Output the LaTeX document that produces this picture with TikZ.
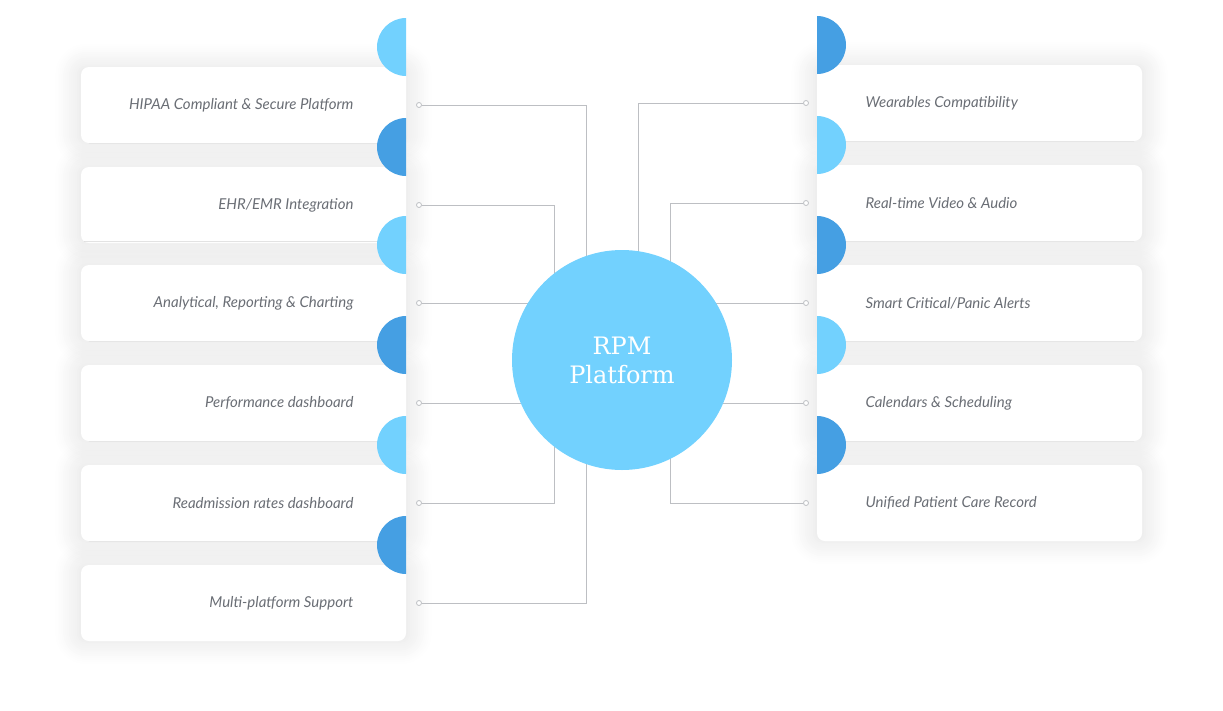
\documentclass[tikz,border=0pt]{standalone}
\usepackage{fontspec}
\setmainfont{Lato}
\newfontfamily\hubfont{DejaVu Serif}
\usetikzlibrary{shadows.blur}
\definecolor{skyblue}{HTML}{72D1FE}
\definecolor{deepblue}{HTML}{459FE3}
\definecolor{cardtext}{HTML}{6A6E75}
\definecolor{wireg}{HTML}{BDBFC3}

\begin{document}
\begin{tikzpicture}[x=1pt,y=-1pt,
  card/.style={rectangle,rounded corners=8pt,fill=white,minimum width=325pt,minimum height=76pt,blur shadow={shadow blur steps=12,shadow xshift=0pt,shadow yshift=0pt,shadow blur radius=22pt,shadow opacity=12,shadow scale=1.02}},
  label/.style={font=\itshape\fontsize{15}{18}\selectfont,text=cardtext},
  dot/.style={circle,draw=wireg,fill=white,inner sep=0pt,minimum size=5pt,line width=0.8pt},
  link/.style={draw=wireg,line width=0.9pt},
  arr/.style={white,line width=1.1pt,line cap=round}]
  \useasboundingbox (0,0) rectangle (1223,710);

  % cards, left column then right column
  \foreach \y/\t/\c [count=\i] in {105/{HIPAA Compliant \& Secure Platform}/skyblue,205/{EHR/EMR Integration}/deepblue,
      303/{Analytical, Reporting \& Charting}/skyblue,403/{Performance dashboard}/deepblue,
      503/{Readmission rates dashboard}/skyblue,603/{Multi-platform Support}/deepblue}{
    \node[card] (cl\i) at (243.5,\y) {};
    \node[label,anchor=east] at (357,\y) {\t};
    \fill[\c] (406,\y-29) arc (90:270:29) -- cycle;
    \draw[arr] (386,\y) -- (397,\y) (391,\y-5) -- (386,\y) -- (391,\y+5);
    \node[dot] (l\i) at (419,\y) {};
  }
  \foreach \y/\t/\c [count=\i] in {103/{Wearables Compatibility}/deepblue,203/{Real-time Video \& Audio}/skyblue,
      303/{Smart Critical/Panic Alerts}/deepblue,403/{Calendars \& Scheduling}/skyblue,503/{Unified Patient Care Record}/deepblue}{
    \node[card] (cr\i) at (979.5,\y) {};
    \node[label,anchor=west] at (862,\y) {\t};
    \fill[\c] (817,\y-29) arc (90:-90:29) -- cycle;
    \draw[arr] (826,\y) -- (837,\y) (832,\y-5) -- (837,\y) -- (832,\y+5);
    \node[dot] (r\i) at (806,\y) {};
  }

  % wires run under the hub
  \coordinate (kl1) at (586,360); \coordinate (kl2) at (554,360);
  \coordinate (kl5) at (554,360); \coordinate (kl6) at (586,360);
  \coordinate (kr1) at (638,360); \coordinate (kr2) at (670,360);
  \coordinate (kr5) at (670,360);
  \draw[link] (l1) -| (kl1);
  \draw[link] (l2) -| (kl2);
  \draw[link] (l3) -- (560,303);
  \draw[link] (l4) -- (560,403);
  \draw[link] (l5) -| (kl5);
  \draw[link] (l6) -| (kl6);
  \draw[link] (r1) -| (kr1);
  \draw[link] (r2) -| (kr2);
  \draw[link] (r3) -- (690,303);
  \draw[link] (r4) -- (690,403);
  \draw[link] (r5) -| (kr5);

  \node[circle,fill=skyblue,minimum size=220pt,text=white,align=center,
        font=\hubfont\fontsize{24}{29}\selectfont] (hub) at (622,360) {RPM\\Platform};
\end{tikzpicture}
\end{document}
